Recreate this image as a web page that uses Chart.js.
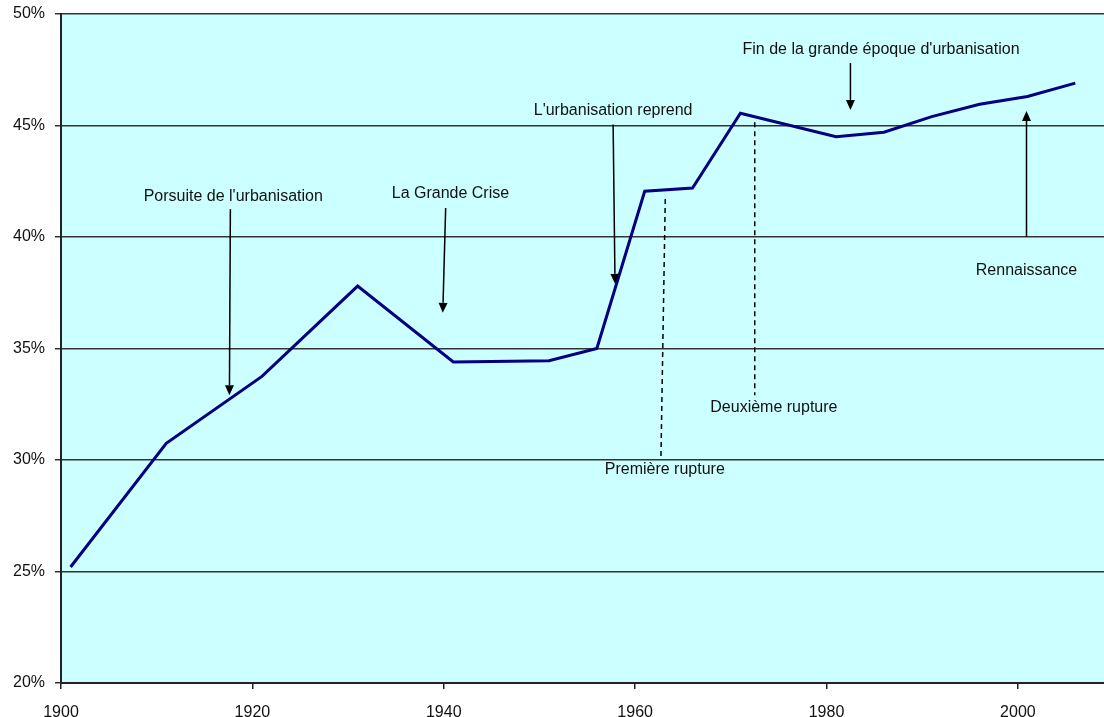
<!DOCTYPE html>
<html>
<head>
<meta charset="utf-8">
<script src="https://cdn.jsdelivr.net/npm/chart.js@4"></script>
<style>
  body { margin: 0; background: #fff; }
  #wrap { width: 1104px; height: 717px; }
</style>
</head>
<body>
<div id="wrap"><canvas id="urban-chart"></canvas></div>
<script>
// Data
const years = [1901, 1911, 1921, 1931, 1941, 1951, 1956, 1961, 1966, 1971, 1981, 1986, 1991, 1996, 2001, 2006];
const urbanShare = [25.2, 30.75, 33.75, 37.8, 34.4, 34.45, 35.0, 42.05, 42.2, 45.55, 44.5, 44.7, 45.4, 45.95, 46.3, 46.9];
const yTicks = [20, 25, 30, 35, 40, 45, 50];
const xTicks = [1900, 1920, 1940, 1960, 1980, 2000];

// Annotations in data units: label, label position, arrow / dashed line
const notes = [
  { text: "Porsuite de l'urbanisation", at: [1918.0, 41.8], from: [1917.7, 41.25], to: [1917.6, 32.9], kind: "arrow" },
  { text: "La Grande Crise", at: [1940.7, 41.95], from: [1940.2, 41.3], to: [1939.9, 36.6], kind: "arrow" },
  { text: "L'urbanisation reprend", at: [1957.7, 45.65], from: [1957.7, 45.05], to: [1957.9, 37.9], kind: "arrow" },
  { text: "Fin de la grande époque d'urbanisation", at: [1985.7, 48.4], from: [1982.5, 47.8], to: [1982.5, 45.7], kind: "arrow" },
  { text: "Rennaissance", at: [2000.9, 38.5], from: [2000.9, 40.0], to: [2000.9, 45.65], kind: "arrow" },
  { text: "Première rupture", at: [1963.1, 29.55], from: [1963.15, 41.7], to: [1962.7, 30.15], kind: "dash" },
  { text: "Deuxième rupture", at: [1974.5, 32.35], from: [1972.5, 45.15], to: [1972.5, 32.9], kind: "dash" }
];

const FONT = "'Liberation Sans', Arial, sans-serif";

// Cyan plot background
const plotBackground = {
  id: "plotBackground",
  beforeDraw(chart) {
    const { ctx, chartArea: a } = chart;
    ctx.save();
    ctx.fillStyle = "#ccffff";
    ctx.fillRect(a.left, a.top, a.right - a.left, a.bottom - a.top);
    ctx.restore();
  }
};

// Text labels, arrows and dashed markers
const notesPlugin = {
  id: "notesPlugin",
  afterDatasetsDraw(chart) {
    const { ctx } = chart;
    const sx = chart.scales.x, sy = chart.scales.y;
    ctx.save();
    ctx.font = "16px " + FONT;
    ctx.fillStyle = "#111";
    ctx.strokeStyle = "#000";
    ctx.textAlign = "center";
    ctx.textBaseline = "middle";
    notes.forEach(n => {
      const x1 = sx.getPixelForValue(n.from[0]), y1 = sy.getPixelForValue(n.from[1]);
      const x2 = sx.getPixelForValue(n.to[0]), y2 = sy.getPixelForValue(n.to[1]);
      ctx.fillText(n.text, sx.getPixelForValue(n.at[0]), sy.getPixelForValue(n.at[1]));
      ctx.lineWidth = 1.5;
      if (n.kind === "dash") {
        ctx.setLineDash([5, 4]);
        ctx.beginPath();
        ctx.moveTo(x1, y1);
        ctx.lineTo(x2, y2);
        ctx.stroke();
        ctx.setLineDash([]);
      } else {
        const ang = Math.atan2(y2 - y1, x2 - x1);
        const len = 10, half = 4.5;
        const bx = x2 - len * Math.cos(ang), by = y2 - len * Math.sin(ang);
        ctx.beginPath();
        ctx.moveTo(x1, y1);
        ctx.lineTo(bx, by);
        ctx.stroke();
        ctx.beginPath();
        ctx.moveTo(x2, y2);
        ctx.lineTo(bx + half * Math.sin(ang), by - half * Math.cos(ang));
        ctx.lineTo(bx - half * Math.sin(ang), by + half * Math.cos(ang));
        ctx.closePath();
        ctx.fillStyle = "#000";
        ctx.fill();
        ctx.fillStyle = "#111";
      }
    });
    ctx.restore();
  }
};

new Chart(document.getElementById("urban-chart"), {
  type: "line",
  data: {
    datasets: [{
      data: years.map((y, i) => ({ x: y, y: urbanShare[i] })),
      borderColor: "#000080",
      borderWidth: 3,
      pointRadius: 0,
      tension: 0,
      fill: false
    }]
  },
  options: {
    responsive: true,
    maintainAspectRatio: false,
    animation: false,
    layout: { padding: { top: 14, right: 0, left: 0, bottom: 0 } },
    plugins: { legend: { display: false }, tooltip: { enabled: false } },
    scales: {
      x: {
        type: "linear",
        min: 1900,
        max: 2009,
        afterFit(scale) { scale.height = 34; },
        afterBuildTicks(scale) { scale.ticks = xTicks.map(v => ({ value: v })); },
        ticks: {
          font: { family: FONT, size: 16 },
          color: "#111",
          padding: 14,
          maxRotation: 0,
          callback: v => String(v)
        },
        grid: { drawOnChartArea: false, drawTicks: true, tickLength: 6, color: "#222", lineWidth: 1.5 },
        border: { color: "#222", width: 2 }
      },
      y: {
        min: 20,
        max: 50,
        afterFit(scale) {
          scale.width = 61;
          scale.paddingTop = 0;
          scale.paddingBottom = 0;
        },
        afterBuildTicks(scale) { scale.ticks = yTicks.map(v => ({ value: v })); },
        ticks: {
          font: { family: FONT, size: 16 },
          color: "#111",
          padding: 10,
          callback: v => v + "%"
        },
        grid: { color: "#333", lineWidth: 1.5, tickLength: 6 },
        border: { color: "#222", width: 2 }
      }
    }
  },
  plugins: [plotBackground, notesPlugin]
});
</script>
</body>
</html>
